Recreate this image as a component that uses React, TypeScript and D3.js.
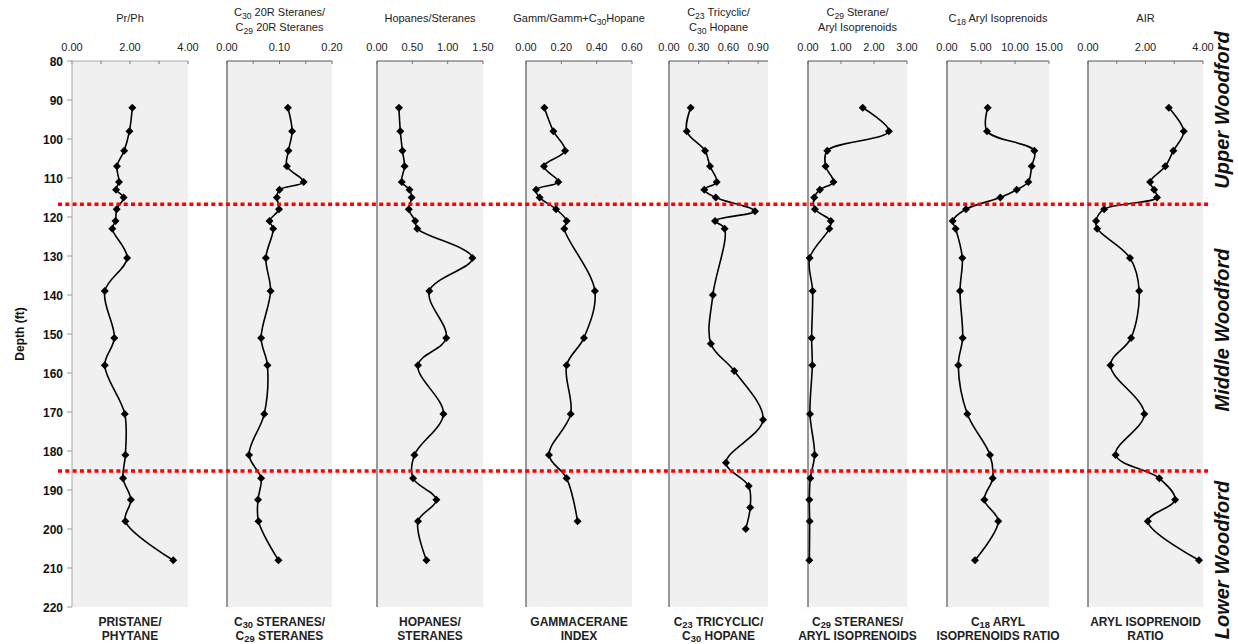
import React from "react";
import * as d3 from "d3";

// Sample depths (ft) shared by most geochemical logs
const depthFt = [92, 98, 103, 107, 111, 113, 115, 118, 121, 123, 130.5, 139, 151, 158, 170.5, 181, 187, 192.5, 198, 208];
const gammDepthFt = [92, 98, 103, 107, 111, 113, 115, 118, 121, 123, 139, 151, 158, 170.5, 181, 187, 198];
const c23DepthFt = [92, 98, 103, 107, 111, 113, 115, 118.5, 121, 123, 140, 152.5, 159.5, 172, 183, 189, 194.5, 200];

const prPh = [2.08, 1.98, 1.8, 1.55, 1.62, 1.52, 1.78, 1.54, 1.5, 1.39, 1.9, 1.13, 1.46, 1.13, 1.82, 1.84, 1.76, 2.03, 1.84, 3.49];
const c30c29Steranes = [0.116, 0.124, 0.117, 0.114, 0.146, 0.1, 0.095, 0.099, 0.081, 0.088, 0.074, 0.083, 0.065, 0.077, 0.071, 0.042, 0.065, 0.059, 0.06, 0.098];
const hopanesSteranes = [0.31, 0.33, 0.36, 0.39, 0.35, 0.46, 0.49, 0.45, 0.54, 0.57, 1.35, 0.74, 0.98, 0.58, 0.94, 0.53, 0.51, 0.84, 0.58, 0.7];
const gammaceraneIndex = [0.104, 0.155, 0.221, 0.102, 0.183, 0.057, 0.077, 0.17, 0.23, 0.217, 0.39, 0.328, 0.23, 0.253, 0.13, 0.23, 0.292];
const c23TricyclicHopane = [0.219, 0.179, 0.364, 0.414, 0.482, 0.357, 0.472, 0.869, 0.465, 0.562, 0.443, 0.423, 0.66, 0.95, 0.576, 0.805, 0.82, 0.775];
const c29SteraneAryl = [1.66, 2.45, 0.585, 0.535, 0.77, 0.36, 0.19, 0.21, 0.69, 0.645, 0.05, 0.14, 0.11, 0.13, 0.06, 0.2, 0.07, 0.04, 0.05, 0.04];
const c18ArylIsoprenoids = [5.98, 5.88, 12.84, 12.45, 11.96, 10.25, 7.84, 2.79, 0.83, 1.27, 2.25, 1.91, 2.3, 1.66, 2.99, 6.32, 6.72, 5.49, 7.54, 4.12];
const arylIsoprenoidRatio = [2.81, 3.33, 2.97, 2.69, 2.16, 2.3, 2.4, 0.56, 0.28, 0.32, 1.46, 1.78, 1.5, 0.78, 1.96, 0.96, 2.48, 3.03, 2.08, 3.86];

const depthTicks = [80, 90, 100, 110, 120, 130, 140, 150, 160, 170, 180, 190, 200, 210, 220];
const boundaryDepths = [116.7, 185.1];
const unitNames = ["Upper Woodford", "Middle Woodford", "Lower Woodford"];

type Seg = { t: string; sub?: boolean };
type Panel = {
  depths: number[];
  values: number[];
  max: number;
  labelTicks: number[];
  minorTicks: number[];
  title: Seg[][];
  footer: Seg[][];
  left: number;
  right: number;
};

const panels: Panel[] = [
  {
    depths: depthFt, values: prPh, max: 4, labelTicks: [0, 2, 4], minorTicks: [1, 3],
    title: [[{ t: "Pr/Ph" }]],
    footer: [[{ t: "PRISTANE/" }], [{ t: "PHYTANE" }]],
    left: 72, right: 188,
  },
  {
    depths: depthFt, values: c30c29Steranes, max: 0.2, labelTicks: [0, 0.1, 0.2], minorTicks: [0.05, 0.15],
    title: [[{ t: "C" }, { t: "30", sub: true }, { t: " 20R Steranes/" }], [{ t: "C" }, { t: "29", sub: true }, { t: " 20R Steranes" }]],
    footer: [[{ t: "C" }, { t: "30", sub: true }, { t: " STERANES/" }], [{ t: "C" }, { t: "29", sub: true }, { t: " STERANES" }]],
    left: 227, right: 332,
  },
  {
    depths: depthFt, values: hopanesSteranes, max: 1.5, labelTicks: [0, 0.5, 1, 1.5], minorTicks: [],
    title: [[{ t: "Hopanes/Steranes" }]],
    footer: [[{ t: "HOPANES/" }], [{ t: "STERANES" }]],
    left: 377, right: 483,
  },
  {
    depths: gammDepthFt, values: gammaceraneIndex, max: 0.6, labelTicks: [0, 0.2, 0.4, 0.6], minorTicks: [],
    title: [[{ t: "Gamm/Gamm+C" }, { t: "30", sub: true }, { t: "Hopane" }]],
    footer: [[{ t: "GAMMACERANE" }], [{ t: "INDEX" }]],
    left: 526, right: 632,
  },
  {
    depths: c23DepthFt, values: c23TricyclicHopane, max: 1.0, labelTicks: [0, 0.3, 0.6, 0.9], minorTicks: [],
    title: [[{ t: "C" }, { t: "23", sub: true }, { t: " Tricyclic/" }], [{ t: "C" }, { t: "30", sub: true }, { t: " Hopane" }]],
    footer: [[{ t: "C" }, { t: "23", sub: true }, { t: " TRICYCLIC/" }], [{ t: "C" }, { t: "30", sub: true }, { t: " HOPANE" }]],
    left: 669, right: 768,
  },
  {
    depths: depthFt, values: c29SteraneAryl, max: 3, labelTicks: [0, 1, 2, 3], minorTicks: [],
    title: [[{ t: "C" }, { t: "29", sub: true }, { t: " Sterane/" }], [{ t: "Aryl Isoprenoids" }]],
    footer: [[{ t: "C" }, { t: "29", sub: true }, { t: " STERANES/" }], [{ t: "ARYL ISOPRENOIDS" }]],
    left: 808, right: 907,
  },
  {
    depths: depthFt, values: c18ArylIsoprenoids, max: 15, labelTicks: [0, 5, 10, 15], minorTicks: [],
    title: [[{ t: "C" }, { t: "18", sub: true }, { t: " Aryl Isoprenoids" }]],
    footer: [[{ t: "C" }, { t: "18", sub: true }, { t: " ARYL" }], [{ t: "ISOPRENOIDS RATIO" }]],
    left: 947, right: 1049,
  },
  {
    depths: depthFt, values: arylIsoprenoidRatio, max: 4, labelTicks: [0, 2, 4], minorTicks: [1, 3],
    title: [[{ t: "AIR" }]],
    footer: [[{ t: "ARYL ISOPRENOID" }], [{ t: "RATIO" }]],
    left: 1088, right: 1203,
  },
];

const WIDTH = 1238;
const HEIGHT = 644;
const TOP = 61;
const BOTTOM = 607;
const FONT = "'Liberation Sans', Arial, sans-serif";

const y = d3.scaleLinear().domain([80, 220]).range([TOP, BOTTOM]);

function RichText({ segs, x, yPos, size, weight, subShift }: { segs: Seg[]; x: number; yPos: number; size: number; weight: string; subShift: number }) {
  return (
    <text x={x} y={yPos} textAnchor="middle" fontSize={size} fontWeight={weight} fontFamily={FONT} fill="#222">
      {segs.map((s, i) =>
        s.sub ? (
          <tspan key={i} fontSize={size * 0.78} dy={subShift}>{s.t}</tspan>
        ) : (
          <tspan key={i} dy={i > 0 && segs[i - 1].sub ? -subShift : 0}>{s.t}</tspan>
        )
      )}
    </text>
  );
}

function diamond(cx: number, cy: number, r: number) {
  return `M${cx},${cy - r}L${cx + r},${cy}L${cx},${cy + r}L${cx - r},${cy}Z`;
}

function LogPanel({ p, index }: { p: Panel; index: number }) {
  const x = d3.scaleLinear().domain([0, p.max]).range([p.left, p.right]);
  const pts = p.depths.map((d, i) => [x(p.values[i]), y(d)] as [number, number]);
  const line = d3.line().curve(d3.curveCatmullRom.alpha(0.5))(pts) || "";
  const cx = (p.left + p.right) / 2;
  const twoLine = p.title.length > 1;
  return (
    <g>
      <rect x={p.left} y={TOP} width={p.right - p.left} height={BOTTOM - TOP} fill="#f0f0f0" />
      {index > 0 && <line x1={p.left} x2={p.left} y1={TOP} y2={BOTTOM} stroke="#777" strokeWidth={1.5} />}
      <line x1={p.left} x2={p.right} y1={TOP} y2={TOP} stroke={index === 0 ? "#aaa" : "#555"} strokeWidth={1} />
      {[...p.labelTicks, ...p.minorTicks].map((t, i) => (
        <line key={i} x1={x(t)} x2={x(t)} y1={TOP} y2={TOP + 3} stroke="#777" strokeWidth={1} />
      ))}
      {p.labelTicks.map((t, i) => (
        <text key={i} x={x(t)} y={51} textAnchor="middle" fontSize={11} fontFamily={FONT} fill="#222">
          {t.toFixed(2)}
        </text>
      ))}
      {p.title.map((segs, i) => (
        <RichText key={i} segs={segs} x={cx} yPos={twoLine ? 16 + i * 15 : 22} size={11} weight="normal" subShift={3} />
      ))}
      {p.footer.map((segs, i) => (
        <RichText key={i} segs={segs} x={cx} yPos={626 + i * 14} size={12} weight="bold" subShift={1.5} />
      ))}
      <path d={line} fill="none" stroke="#000" strokeWidth={1.6} />
      {pts.map(([px, py], i) => (
        <path key={i} d={diamond(px, py, 4)} fill="#000" />
      ))}
    </g>
  );
}

export default function App() {
  const unitCenters = [110, 330, 560];
  return (
    <svg width={WIDTH} height={HEIGHT} style={{ display: "block", position: "absolute", left: 0, top: 0 }}>
      <rect width={WIDTH} height={HEIGHT} fill="#fff" />
      {panels.map((p, i) => (
        <LogPanel key={i} p={p} index={i} />
      ))}
      {/* depth axis */}
      <line x1={72} x2={72} y1={TOP} y2={BOTTOM} stroke="#aaa" strokeWidth={1} />
      {depthTicks.map((d) => (
        <g key={d}>
          <line x1={67} x2={72} y1={y(d)} y2={y(d)} stroke="#999" />
          <text x={63} y={y(d) + 4.5} textAnchor="end" fontSize={12} fontWeight="bold" fontFamily={FONT} fill="#111">
            {d}
          </text>
        </g>
      ))}
      <text
        transform={`translate(24, ${y(150)}) rotate(-90)`}
        textAnchor="middle"
        fontSize={12}
        fontWeight="bold"
        fontFamily={FONT}
        fill="#111"
      >
        Depth (ft)
      </text>
      {boundaryDepths.map((d) => (
        <line key={d} x1={58} x2={1210} y1={y(d)} y2={y(d)} stroke="#ff0000" strokeWidth={3.5} strokeDasharray="4 3.3" />
      ))}
      {unitNames.map((n, i) => (
        <text
          key={n}
          transform={`translate(1229, ${unitCenters[i]}) rotate(-90)`}
          textAnchor="middle"
          fontSize={20}
          fontWeight="bold"
          fontStyle="italic"
          fontFamily={FONT}
          fill="#111"
        >
          {n}
        </text>
      ))}
    </svg>
  );
}
